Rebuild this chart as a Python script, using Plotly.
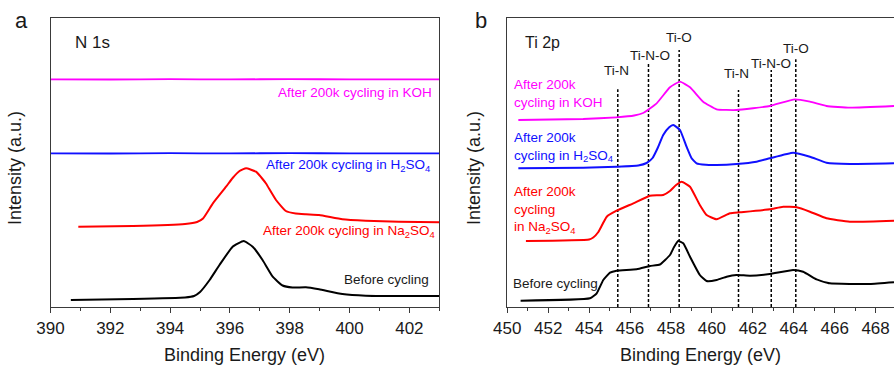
import plotly.graph_objects as go

# ---------------- N 1s spectra (panel a) ----------------
n1s_flat_x = [390.0, 392.0, 394.0, 396.0, 398.0, 400.0, 402.0, 403.0]
n1s_koh_y = [228.7, 228.5, 228.8, 228.6, 228.9, 228.6, 228.7, 228.7]
n1s_h2so4_y = [154.7, 154.5, 154.8, 154.6, 154.9, 154.6, 154.7, 154.7]

n1s_na2so4_x = [390.93, 392.76, 394.5, 394.9, 395.1, 395.43, 395.87, 396.09, 396.32, 396.54,
                396.87, 397.09, 397.2, 397.54, 397.87, 398.2, 398.54, 398.98, 399.76, 400.54,
                401.65, 403.0]
n1s_na2so4_y = [81.3, 82.0, 84.0, 86.0, 89.5, 104.7, 121.3, 130.0, 137.0, 139.7,
                136.3, 129.0, 124.7, 108.0, 97.0, 94.5, 93.7, 93.0, 88.7, 87.3,
                86.3, 85.7]

n1s_before_x = [390.68, 392.76, 394.5, 394.8, 395.0, 395.32, 395.65, 396.09, 396.46, 396.76,
                397.09, 397.43, 397.76, 398.09, 398.54, 398.98, 399.76, 400.54, 401.65,
                403.0]
n1s_before_y = [8.0, 9.0, 10.5, 12.0, 16.0, 28.0, 43.0, 61.3, 67.0, 61.3,
                48.0, 31.3, 22.5, 20.5, 20.7, 18.7, 14.0, 12.3, 12.0,
                12.0]

# ---------------- Ti 2p spectra (panel b) ----------------
ti_koh_x = [450.54, 453.71, 455.34, 456.2, 456.64, 457.3, 457.95, 458.44, 458.93, 459.57,
            460.23, 461.2, 462.83, 464.05, 464.79, 465.6, 466.74, 468.9]
ti_koh_y = [188.0, 189.0, 190.7, 192.5, 195.0, 204.7, 220.7, 226.3, 220.7, 206.3,
            198.7, 198.0, 202.0, 208.7, 206.3, 202.0, 200.3, 202.0]

ti_h2so4_x = [450.54, 453.71, 455.34, 456.4, 456.81, 457.1, 457.35, 457.62, 457.9, 458.11,
              458.44, 458.76, 459.0, 459.25, 459.7, 460.23, 461.2, 462.18, 462.83, 463.97,
              464.79, 465.6, 466.74, 468.9]
ti_h2so4_y = [139.7, 140.3, 141.3, 142.5, 145.0, 150.0, 160.0, 173.0, 180.5, 183.0,
              178.0, 161.3, 150.0, 144.7, 143.2, 143.0, 144.0, 146.3, 149.7, 155.3,
              151.3, 145.3, 144.0, 144.7]

ti_na2so4_x = [450.91, 454.0, 454.2, 454.45, 454.86, 455.34, 456.16, 456.97, 457.62, 457.95,
               458.25, 458.52, 458.93, 459.41, 459.74, 460.23, 460.88, 461.37, 462.83, 463.48,
               464.14, 464.79, 465.6, 466.74, 468.9]
ti_na2so4_y = [67.0, 68.5, 70.5, 76.0, 91.3, 97.3, 104.7, 112.3, 113.0, 117.0,
               123.0, 126.3, 121.3, 103.0, 93.0, 88.7, 94.7, 95.7, 98.7, 101.3,
               100.7, 96.3, 89.7, 86.3, 87.3]

ti_before_x = [450.65, 454.04, 454.37, 454.69, 455.02, 455.34, 456.32, 456.97, 457.46,
               457.95, 458.15, 458.35, 458.6, 458.93, 459.41, 459.74, 460.23, 460.72, 461.2,
               461.86, 462.83, 463.97, 464.46, 465.11, 465.76, 466.74, 467.72, 468.9]
ti_before_y = [7.3, 9.7, 14.7, 28.0, 35.3, 37.3, 38.7, 42.0, 43.5,
               53.0, 61.0, 67.0, 64.7, 51.3, 33.0, 27.0, 28.0, 31.3, 33.0,
               32.3, 34.0, 38.0, 36.3, 28.7, 24.7, 24.0, 24.0, 25.7]

# Reference binding energies of the Ti species and the height each marker reaches
ti_peak_names = ["Ti-N", "Ti-N-O", "Ti-O", "Ti-N", "Ti-N-O", "Ti-O"]
ti_peak_ev = [455.4, 456.9, 458.4, 461.3, 462.9, 464.1]
ti_peak_top = [218.7, 244.7, 258.0, 218.0, 238.0, 248.7]

W, H = 894, 367
FONT = "Arial, 'Liberation Sans', sans-serif"
MAGENTA, BLUE, RED, BLACK = "#ff00ff", "#1010ff", "#ff0000", "#000000"


def px(x):
    return x / W


def py(y):
    return 1 - y / H


fig = go.Figure()


def curve(x, y, color, width, xa, ya):
    fig.add_trace(go.Scatter(
        x=x, y=y, mode="lines", xaxis=xa, yaxis=ya, showlegend=False,
        line=dict(color=color, width=width, shape="spline", smoothing=0.4),
        hoverinfo="skip"))


# panel a
curve(n1s_flat_x, n1s_koh_y, MAGENTA, 1.8, "x", "y")
curve(n1s_flat_x, n1s_h2so4_y, BLUE, 1.8, "x", "y")
curve(n1s_na2so4_x, n1s_na2so4_y, RED, 2.0, "x", "y")
curve(n1s_before_x, n1s_before_y, BLACK, 2.0, "x", "y")

# panel b: dashed markers for each Ti species
for ev, top in zip(ti_peak_ev, ti_peak_top):
    fig.add_trace(go.Scatter(
        x=[ev, ev], y=[1, top], mode="lines", xaxis="x2", yaxis="y2",
        showlegend=False, hoverinfo="skip",
        line=dict(color="black", width=1.5, dash="3px,2px")))

curve(ti_koh_x, ti_koh_y, MAGENTA, 1.8, "x2", "y2")
curve(ti_h2so4_x, ti_h2so4_y, BLUE, 2.0, "x2", "y2")
curve(ti_na2so4_x, ti_na2so4_y, RED, 2.0, "x2", "y2")
curve(ti_before_x, ti_before_y, BLACK, 2.0, "x2", "y2")

ydom = [py(307), py(17.5)]
axis_line = "#3a3a3a"
xcommon = dict(
    showline=True, linecolor=axis_line, linewidth=1.2, showgrid=False, zeroline=False,
    automargin=False,
    ticks="outside", ticklen=5, tickwidth=1.2, tickcolor=axis_line, dtick=2,
    tickfont=dict(family=FONT, size=17, color="#1a1a1a"),
    minor=dict(ticks="outside", ticklen=3, tickwidth=1.2, tickcolor=axis_line, dtick=1),
)
ycommon = dict(
    showline=True, linecolor=axis_line, linewidth=1.2, showgrid=False, zeroline=False,
    automargin=False,
    showticklabels=False, ticks="", range=[1, 290.5], domain=ydom,
)

fig.update_layout(
    template="none",
    width=W, height=H, margin=dict(l=0, r=0, t=0, b=0, autoexpand=False),
    paper_bgcolor="white", plot_bgcolor="white",
    xaxis=dict(xcommon, domain=[px(50.5), px(439.3)], range=[390, 403], mirror=True, anchor="y"),
    yaxis=dict(ycommon, mirror=True, anchor="x"),
    xaxis2=dict(xcommon, domain=[px(507.3), 1.0], range=[450, 468.9], mirror=True, anchor="y2"),
    yaxis2=dict(ycommon, mirror=False, anchor="x2"),
)

ann = []


def text(s, x, y, size, color="#1a1a1a", xanchor="center", yanchor="middle", angle=0, align="left"):
    ann.append(dict(text=s, x=px(x), y=py(y), xref="paper", yref="paper",
                    xanchor=xanchor, yanchor=yanchor, textangle=angle, align=align,
                    showarrow=False, font=dict(family=FONT, size=size, color=color)))


# panel letters and element labels
text("a", 21, 21, 22)
text("b", 481, 21, 22)
text("N 1s", 92, 42, 17)
text("Ti 2p", 542.5, 43, 16)

# axis titles
text("Binding Energy (eV)", 245, 355, 18)
text("Binding Energy (eV)", 700, 355, 18)
text("Intensity (a.u.)", 15, 168, 18, angle=-90)
text("Intensity (a.u.)", 474, 168, 18, angle=-90)

# panel a curve labels
LS = 13.5
text("After 200k cycling in KOH", 433.5, 92.7, LS, MAGENTA, xanchor="right")
text("After 200k cycling in H<sub>2</sub>SO<sub>4</sub>", 432, 165.7, LS, BLUE, xanchor="right")
text("After 200k cycling in Na<sub>2</sub>SO<sub>4</sub>", 437, 231.7, LS, RED, xanchor="right")
text("Before cycling", 431, 279.3, LS, "#1a1a1a", xanchor="right")

# panel b curve labels
text("After 200k<br>cycling in KOH", 511.5, 93, LS, MAGENTA, xanchor="left")
text("After 200k<br>cycling in H<sub>2</sub>SO<sub>4</sub>", 511.5, 147, LS, BLUE, xanchor="left")
text("After 200k<br>cycling<br>in Na<sub>2</sub>SO<sub>4</sub>", 511.5, 210, LS, RED, xanchor="left")
text("Before cycling", 511, 283.3, LS, "#1a1a1a", xanchor="left")

# species labels above the dashed markers
species_label_pos = [(616.7, 70.7), (650.3, 55), (679, 37), (736.7, 73.3), (771.2, 63.3), (795.8, 48.3)]
for name, (lx, ly) in zip(ti_peak_names, species_label_pos):
    text(name, lx, ly, 13.5)

fig.update_layout(annotations=ann)
fig.write_html("out.html")
